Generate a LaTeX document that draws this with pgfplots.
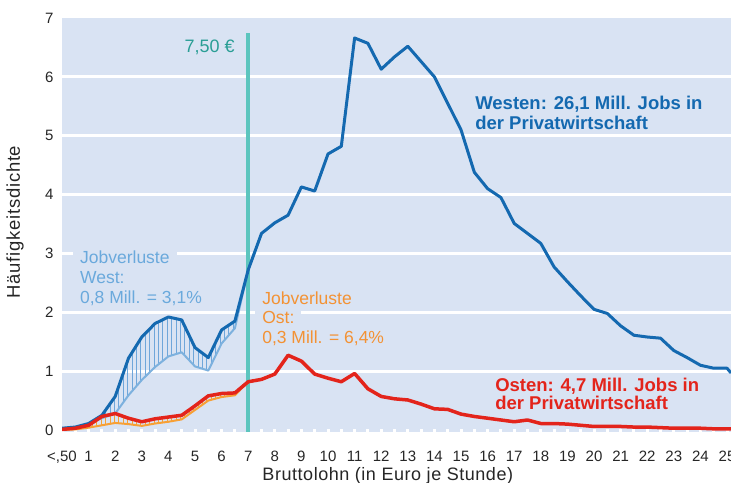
\documentclass[border=0pt]{standalone}
\usepackage{fontspec}
\setmainfont{Liberation Sans}
\usepackage{pgfplots}
\pgfplotsset{compat=1.18}
\usepgfplotslibrary{fillbetween}
\usetikzlibrary{patterns.meta}
\definecolor{bgblue}{HTML}{D9E3F3}
\definecolor{westblue}{HTML}{1469B0}
\definecolor{lightblue}{HTML}{7DB1DE}
\definecolor{lbtext}{HTML}{6AA9DC}
\definecolor{hatchblue}{HTML}{6FA6DA}
\definecolor{eastred}{HTML}{E3241B}
\definecolor{eastorange}{HTML}{F7A035}
\definecolor{ortext}{HTML}{F39234}
\definecolor{tealline}{HTML}{5CC5BE}
\definecolor{tealtext}{HTML}{2A9E95}
\begin{document}
\begin{tikzpicture}
\begin{axis}[
  scale only axis, width=669bp, height=414bp,
  at={(0,0)}, anchor=south west,
  xmin=0, xmax=25.15, ymin=-0.034, ymax=7,
  axis background/.style={fill=bgblue},
  axis line style={draw=none},
  /pgf/number format/assume math mode=true,
  xtick={0,...,25},
  xticklabels={{<,50},1,2,3,4,5,6,7,8,9,10,11,12,13,14,15,16,17,18,19,20,21,22,23,24,25},
  minor x tick num=1,
  tick align=inside,
  xtick pos=bottom, ytick pos=left,
  major tick length=3bp, minor tick length=3bp,
  xtick style={white, line width=3bp},
  ytick={0,...,7},
  ytick style={draw=none},
  extra y ticks={1,2,3,4,5,6},
  extra y tick labels={},
  extra y tick style={grid=major, major grid style={white, line width=3bp}},
  xticklabel style={font=\fontsize{15bp}{18bp}\selectfont, anchor=north, yshift=-16bp, text=black!85},
  yticklabel style={font=\fontsize{15bp}{18bp}\selectfont, anchor=east, xshift=-5bp, text=black!85},
  xlabel={Bruttolohn (in Euro je Stunde)},
  ylabel={Häufigkeitsdichte},
  xlabel style={font=\fontsize{18bp}{20bp}\selectfont\addfontfeature{LetterSpace=3}, at={(axis description cs:0.487,-0.106)}, anchor=center, text=black!85},
  ylabel style={font=\fontsize{18.5bp}{20bp}\selectfont\addfontfeature{LetterSpace=4}, at={(axis description cs:-0.0703,0.507)}, anchor=center, text=black!85},
  clip=true,
]
% West before / after job losses
\addplot[name path=westA, draw=none, forget plot] coordinates {
(0,0.03)(0.5,0.05)(1,0.11)(1.5,0.25)(2,0.57)(2.5,1.22)(3,1.58)(3.5,1.81)(4,1.92)(4.5,1.87)(5,1.40)(5.5,1.23)(6,1.70)(6.5,1.85)(7,2.72)};
\addplot[name path=westB, draw=none, forget plot] coordinates {
(0,0.03)(0.5,0.05)(1,0.11)(1.5,0.20)(2,0.28)(2.5,0.59)(3,0.85)(3.5,1.07)(4,1.25)(4.5,1.32)(5,1.08)(5.5,1.01)(6,1.47)(6.5,1.73)(7,2.72)};
\addplot[name path=eastA, draw=none, forget plot] coordinates {
(0,0.01)(0.5,0.03)(1,0.08)(1.5,0.23)(2,0.28)(2.5,0.20)(3,0.14)(3.5,0.19)(4,0.22)(4.5,0.25)(5,0.41)(5.5,0.58)(6,0.62)(6.5,0.63)(7,0.82)};
\addplot[name path=eastB, draw=none, forget plot] coordinates {
(0,0.00)(0.5,0.01)(1,0.04)(1.5,0.08)(2,0.12)(2.5,0.10)(3,0.07)(3.5,0.11)(4,0.14)(4.5,0.18)(5,0.34)(5.5,0.50)(6,0.56)(6.5,0.59)(7,0.82)};
\addplot[pattern={Lines[angle=90,distance=4.4bp,line width=0.9bp]}, pattern color=hatchblue, draw=none] fill between[of=westA and westB];
\addplot[pattern={Lines[angle=90,distance=4.4bp,line width=0.9bp]}, pattern color=eastorange, draw=none] fill between[of=eastA and eastB];
% 7,50 EUR line
\addplot[tealline, line width=3.5bp] coordinates {(7,-0.034)(7,6.74)};
% light blue (after losses)
\addplot[lightblue, line width=2bp, line join=round] coordinates {
(0,0.03)(0.5,0.05)(1,0.11)(1.5,0.20)(2,0.28)(2.5,0.59)(3,0.85)(3.5,1.07)(4,1.25)(4.5,1.32)(5,1.08)(5.5,1.01)(6,1.47)(6.5,1.73)(7,2.72)};
% orange (after losses)
\addplot[eastorange, line width=2bp, line join=round] coordinates {
(0,0.00)(0.5,0.01)(1,0.04)(1.5,0.08)(2,0.12)(2.5,0.10)(3,0.07)(3.5,0.11)(4,0.14)(4.5,0.18)(5,0.34)(5.5,0.50)(6,0.56)(6.5,0.59)(7,0.82)};
% West
\addplot[westblue, line width=3bp, line join=round] coordinates {
(0,0.03)(0.5,0.05)(1,0.11)(1.5,0.25)(2,0.57)(2.5,1.22)(3,1.58)(3.5,1.81)(4,1.92)(4.5,1.87)(5,1.40)(5.5,1.23)(6,1.70)(6.5,1.85)(7,2.72)
(7.5,3.34)(8,3.52)(8.5,3.65)(9,4.13)(9.5,4.06)(10,4.69)(10.5,4.82)(11,6.66)(11.5,6.57)(12,6.13)(12.5,6.34)(13,6.52)(13.5,6.26)(14,6.00)(14.5,5.55)
(15,5.10)(15.5,4.38)(16,4.10)(16.5,3.95)(17,3.51)(17.5,3.34)(18,3.17)(18.5,2.77)(19,2.52)(19.5,2.28)(20,2.05)(20.5,1.98)(21,1.77)(21.5,1.61)
(22,1.58)(22.5,1.56)(23,1.35)(23.5,1.23)(24,1.10)(24.5,1.05)(25,1.05)(25.15,0.97)};
% East
\addplot[eastred, line width=3.5bp, line join=round] coordinates {
(0,0.01)(0.5,0.03)(1,0.08)(1.5,0.23)(2,0.28)(2.5,0.20)(3,0.14)(3.5,0.19)(4,0.22)(4.5,0.25)(5,0.41)(5.5,0.58)(6,0.62)(6.5,0.63)(7,0.82)
(7.5,0.86)(8,0.95)(8.5,1.27)(9,1.17)(9.5,0.95)(10,0.88)(10.5,0.82)(11,0.96)(11.5,0.70)(12,0.57)(12.5,0.53)(13,0.51)(13.5,0.44)(14,0.36)(14.5,0.35)
(15,0.27)(15.5,0.23)(16,0.20)(16.5,0.17)(17,0.14)(17.5,0.17)(18,0.11)(18.5,0.11)(19,0.10)(19.5,0.08)(20,0.06)(20.5,0.06)(21,0.06)(21.5,0.05)
(22,0.05)(22.5,0.04)(23,0.03)(23.5,0.03)(24,0.03)(24.5,0.02)(25,0.02)(25.15,0.02)};
% annotations
\node[anchor=base east, inner sep=0pt, text=tealtext, font=\fontsize{18bp}{20bp}\selectfont] at (axis cs:6.5,6.42) {7,50 €};
\begin{scope}[every node/.style={anchor=base west, fill=bgblue, inner xsep=7bp, inner ysep=2bp, text=lbtext, font=\fontsize{17.5bp}{20bp}\selectfont}]
\node at (axis cs:0.41,2.835) {Jobverluste};
\node at (axis cs:0.41,2.495) {West:};
\node at (axis cs:0.41,2.155) {0,8 Mill. = 3,1\%};
\end{scope}
\begin{scope}[every node/.style={anchor=base west, fill=bgblue, inner xsep=7bp, inner ysep=2bp, text=ortext, font=\fontsize{17.5bp}{20bp}\selectfont}]
\node at (axis cs:7.26,2.14) {Jobverluste};
\node at (axis cs:7.26,1.81) {Ost:};
\node at (axis cs:7.26,1.475) {0,3 Mill. = 6,4\%};
\end{scope}
\begin{scope}[every node/.style={anchor=base west, inner sep=0pt, font=\bfseries\fontsize{18.5bp}{20bp}\selectfont}]
\node[text=westblue] at (axis cs:15.53,5.437) {Westen: 26,1 Mill. Jobs in};
\node[text=westblue] at (axis cs:15.53,5.114) {der Privatwirtschaft};
\node[text=eastred] at (axis cs:16.28,0.646) {Osten: 4,7 Mill. Jobs in};
\node[text=eastred] at (axis cs:16.28,0.34) {der Privatwirtschaft};
\end{scope}
\end{axis}
\pgfresetboundingbox
\path[use as bounding box] (-62bp,-51bp) rectangle (669bp,432bp);
\end{tikzpicture}
\end{document}
